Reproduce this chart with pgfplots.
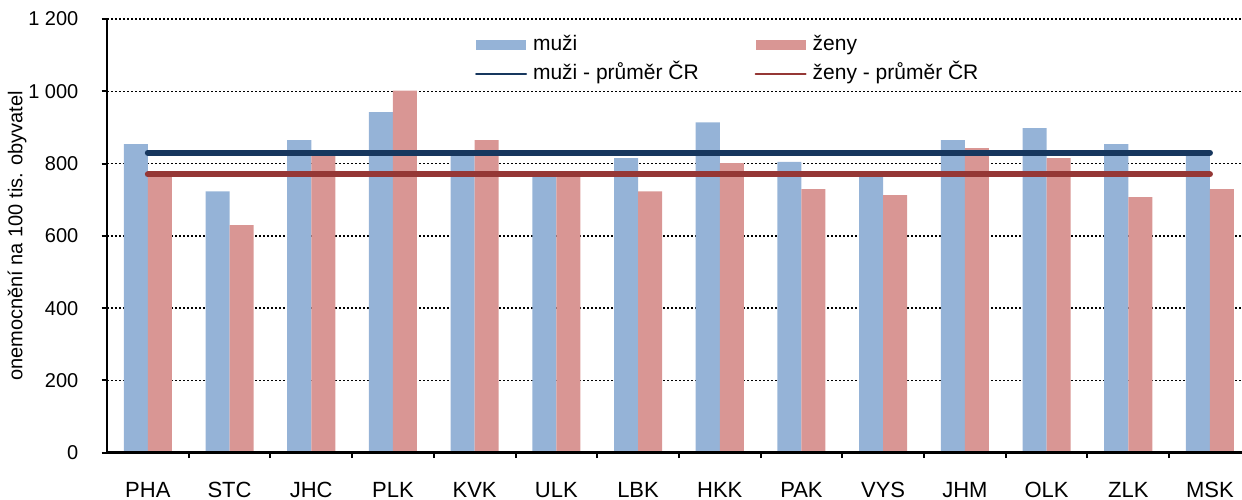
\documentclass[border=0pt]{standalone}
\usepackage{fontspec}
\setmainfont{Liberation Sans}
\usepackage{pgfplots}
\pgfplotsset{compat=1.18}
\definecolor{barblue}{RGB}{149,179,215}
\definecolor{barred}{RGB}{217,150,148}
\definecolor{linenavy}{RGB}{23,55,94}
\definecolor{linered}{RGB}{149,55,53}
\pgfplotsset{
  layers/mylayers/.define layer set={axis background,axis grid,main,axis ticks,axis lines,axis tick labels,axis descriptions,axis foreground}{/pgfplots/layers/standard},
}
\begin{document}
\begin{tikzpicture}
\begin{axis}[
  set layers=mylayers,
  at={(0pt,0pt)}, anchor=south west,
  scale only axis, width=571.9pt, height=216.85pt,
  xmin=-0.5, xmax=13.5, ymin=0, ymax=1200,
  axis x line*=bottom, axis y line*=left,
  x axis line style={line width=1.5pt, -},
  y axis line style={line width=1pt, -},
  ytick={0,200,...,1200},
  yticklabels={0,200,400,600,800,1 000,1 200},
  ymajorgrids,
  grid style={black, line width=0.65pt, dash pattern=on 1pt off 1pt},
  xtick={0,...,13},
  xticklabels={PHA,STC,JHC,PLK,KVK,ULK,LBK,HKK,PAK,VYS,JHM,OLK,ZLK,MSK},
  minor xtick={0.5,1.5,...,12.5},
  major x tick style={draw=none},
  tick style={black, line width=1pt},
  tick align=outside,
  major tick length=2.65pt, minor tick length=2.65pt,
  yticklabel style={font=\fontsize{10}{12}\selectfont, anchor=east, inner sep=0pt, xshift=-11.5pt},
  xticklabel style={font=\fontsize{11}{13}\selectfont, anchor=north, inner sep=0pt, text height=8pt, text depth=0pt, yshift=-11.4pt},
  ylabel={onemocnění na 100 tis. obyvatel},
  ylabel style={font=\fontsize{10}{12}\selectfont, at={(axis description cs:-0.0787,0.5)}, anchor=center},
  legend columns=2,
  legend cell align=left,
  legend style={at={(axis cs:4.0,1156)}, anchor=north west, draw=none, fill=none, inner sep=0pt,
    font=\fontsize{10.5}{12}\selectfont,
    nodes={inner xsep=3pt, inner ysep=0pt, text height=7.5pt, text depth=2.5pt},
    row sep=4.5pt,
    /tikz/every even column/.append style={column sep=25pt}},
]
\addplot[ybar, bar width=0.294, bar shift=-0.147, fill=barblue, draw=none,
  legend image code/.code={\fill[barblue] (0pt,-2.5pt) rectangle (25pt,2.5pt);}]
  coordinates {(0,854) (1,723) (2,865) (3,942) (4,825) (5,763) (6,815) (7,914) (8,805) (9,765) (10,865) (11,898) (12,854) (13,826)};
\addlegendentry{muži}
\addplot[ybar, bar width=0.294, bar shift=0.147, fill=barred, draw=none,
  legend image code/.code={\fill[barred] (0pt,-2.5pt) rectangle (25pt,2.5pt);}]
  coordinates {(0,774) (1,630) (2,823) (3,1002) (4,865) (5,768) (6,723) (7,801) (8,729) (9,713) (10,843) (11,815) (12,707) (13,729)};
\addlegendentry{ženy}
\addplot[linenavy, line width=3pt, line cap=round,
  legend image code/.code={\draw[linenavy, line width=1pt] (0pt,0pt) -- (25pt,0pt);}]
  coordinates {(0,830) (13,830)};
\addlegendentry{muži - průměr ČR}
\addplot[linered, line width=3pt, line cap=round,
  legend image code/.code={\draw[linered, line width=1pt] (0pt,0pt) -- (25pt,0pt);}]
  coordinates {(0,770) (13,770)};
\addlegendentry{ženy - průměr ČR}
\end{axis}
\pgfresetboundingbox
\useasboundingbox (-53.5pt,-23.15pt) rectangle (567.5pt,226.35pt);
\end{tikzpicture}
\end{document}
